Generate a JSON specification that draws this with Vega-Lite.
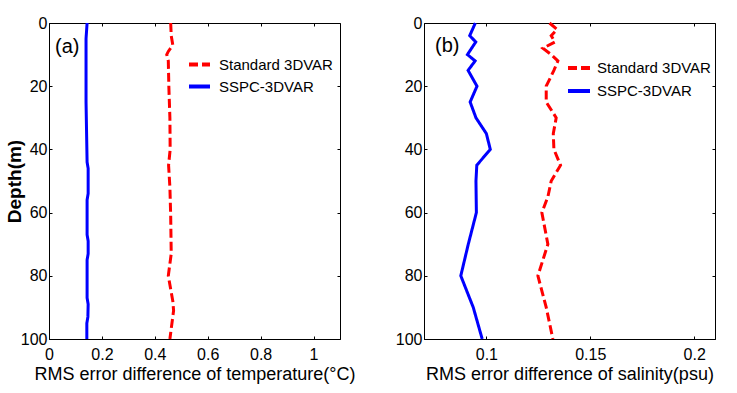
{
  "$schema": "https://vega.github.io/schema/vega-lite/v6.json",
  "padding": {"left": 4, "top": 14, "right": 5, "bottom": 5},
  "background": "white",
  "datasets": {
    "temp": [
      {"method": "Standard 3DVAR", "depth": 0, "value": 0.460},
      {"method": "Standard 3DVAR", "depth": 4, "value": 0.462},
      {"method": "Standard 3DVAR", "depth": 7, "value": 0.468},
      {"method": "Standard 3DVAR", "depth": 9, "value": 0.451},
      {"method": "Standard 3DVAR", "depth": 10, "value": 0.445},
      {"method": "Standard 3DVAR", "depth": 12, "value": 0.451},
      {"method": "Standard 3DVAR", "depth": 20, "value": 0.453},
      {"method": "Standard 3DVAR", "depth": 30, "value": 0.457},
      {"method": "Standard 3DVAR", "depth": 40, "value": 0.458},
      {"method": "Standard 3DVAR", "depth": 45, "value": 0.452},
      {"method": "Standard 3DVAR", "depth": 52, "value": 0.457},
      {"method": "Standard 3DVAR", "depth": 61, "value": 0.460},
      {"method": "Standard 3DVAR", "depth": 73, "value": 0.462},
      {"method": "Standard 3DVAR", "depth": 80, "value": 0.451},
      {"method": "Standard 3DVAR", "depth": 88, "value": 0.468},
      {"method": "Standard 3DVAR", "depth": 91, "value": 0.471},
      {"method": "Standard 3DVAR", "depth": 100, "value": 0.457},
      {"method": "SSPC-3DVAR", "depth": 0, "value": 0.144},
      {"method": "SSPC-3DVAR", "depth": 5, "value": 0.140},
      {"method": "SSPC-3DVAR", "depth": 25, "value": 0.140},
      {"method": "SSPC-3DVAR", "depth": 44, "value": 0.144},
      {"method": "SSPC-3DVAR", "depth": 46, "value": 0.148},
      {"method": "SSPC-3DVAR", "depth": 54, "value": 0.148},
      {"method": "SSPC-3DVAR", "depth": 56, "value": 0.144},
      {"method": "SSPC-3DVAR", "depth": 67, "value": 0.144},
      {"method": "SSPC-3DVAR", "depth": 69, "value": 0.148},
      {"method": "SSPC-3DVAR", "depth": 73, "value": 0.148},
      {"method": "SSPC-3DVAR", "depth": 75, "value": 0.144},
      {"method": "SSPC-3DVAR", "depth": 87, "value": 0.144},
      {"method": "SSPC-3DVAR", "depth": 89, "value": 0.148},
      {"method": "SSPC-3DVAR", "depth": 93, "value": 0.147},
      {"method": "SSPC-3DVAR", "depth": 95, "value": 0.143},
      {"method": "SSPC-3DVAR", "depth": 100, "value": 0.143}
    ],
    "sal": [
      {"method": "Standard 3DVAR", "depth": 0, "value": 0.1304},
      {"method": "Standard 3DVAR", "depth": 2, "value": 0.1340},
      {"method": "Standard 3DVAR", "depth": 4, "value": 0.1312},
      {"method": "Standard 3DVAR", "depth": 6, "value": 0.1330},
      {"method": "Standard 3DVAR", "depth": 8, "value": 0.1272},
      {"method": "Standard 3DVAR", "depth": 10, "value": 0.1312},
      {"method": "Standard 3DVAR", "depth": 12, "value": 0.1344},
      {"method": "Standard 3DVAR", "depth": 15, "value": 0.1325},
      {"method": "Standard 3DVAR", "depth": 20, "value": 0.1288},
      {"method": "Standard 3DVAR", "depth": 25, "value": 0.1288},
      {"method": "Standard 3DVAR", "depth": 30, "value": 0.1336},
      {"method": "Standard 3DVAR", "depth": 35, "value": 0.1322},
      {"method": "Standard 3DVAR", "depth": 40, "value": 0.1325},
      {"method": "Standard 3DVAR", "depth": 45, "value": 0.1357},
      {"method": "Standard 3DVAR", "depth": 50, "value": 0.1312},
      {"method": "Standard 3DVAR", "depth": 55, "value": 0.1296},
      {"method": "Standard 3DVAR", "depth": 60, "value": 0.1267},
      {"method": "Standard 3DVAR", "depth": 70, "value": 0.1296},
      {"method": "Standard 3DVAR", "depth": 80, "value": 0.1248},
      {"method": "Standard 3DVAR", "depth": 90, "value": 0.1288},
      {"method": "Standard 3DVAR", "depth": 100, "value": 0.1320},
      {"method": "SSPC-3DVAR", "depth": 0, "value": 0.0947},
      {"method": "SSPC-3DVAR", "depth": 4, "value": 0.0920},
      {"method": "SSPC-3DVAR", "depth": 6, "value": 0.0949},
      {"method": "SSPC-3DVAR", "depth": 10, "value": 0.0909},
      {"method": "SSPC-3DVAR", "depth": 12, "value": 0.0946},
      {"method": "SSPC-3DVAR", "depth": 15, "value": 0.0912},
      {"method": "SSPC-3DVAR", "depth": 20, "value": 0.0955},
      {"method": "SSPC-3DVAR", "depth": 25, "value": 0.0922},
      {"method": "SSPC-3DVAR", "depth": 30, "value": 0.0950},
      {"method": "SSPC-3DVAR", "depth": 35, "value": 0.1000},
      {"method": "SSPC-3DVAR", "depth": 40, "value": 0.1019},
      {"method": "SSPC-3DVAR", "depth": 45, "value": 0.0954},
      {"method": "SSPC-3DVAR", "depth": 50, "value": 0.0950},
      {"method": "SSPC-3DVAR", "depth": 60, "value": 0.0952},
      {"method": "SSPC-3DVAR", "depth": 70, "value": 0.0913},
      {"method": "SSPC-3DVAR", "depth": 80, "value": 0.0877},
      {"method": "SSPC-3DVAR", "depth": 90, "value": 0.0937},
      {"method": "SSPC-3DVAR", "depth": 100, "value": 0.0980}
    ]
  },
  "config": {
    "view": {"stroke": "black", "strokeWidth": 1},
    "font": "Liberation Sans",
    "axis": {
      "grid": false,
      "domainColor": "black",
      "tickColor": "black",
      "labelColor": "black",
      "titleColor": "black",
      "labelFont": "Liberation Sans",
      "titleFont": "Liberation Sans",
      "labelFontSize": 16,
      "titleFontSize": 18,
      "titleFontWeight": "normal",
      "tickSize": -3,
      "labelOverlap": false,
      "labelFlush": false
    },
    "concat": {"spacing": 84}
  },
  "bounds": "flush",
  "resolve": {
    "scale": {"x": "independent", "y": "independent", "color": "independent", "strokeDash": "independent"},
    "legend": {"color": "independent", "strokeDash": "independent"}
  },
  "hconcat": [
    {
      "width": 291,
      "height": 316,
      "resolve": {"axis": {"x": "independent", "y": "independent"}},
      "layer": [
        {
          "data": {"name": "temp"},
          "mark": {"type": "line", "strokeWidth": 3},
          "encoding": {
            "x": {"field": "value", "type": "quantitative", "scale": {"domain": [0, 1.1], "nice": false, "zero": false},
              "axis": {"orient": "bottom", "values": [0, 0.2, 0.4, 0.6, 0.8, 1], "format": "~g", "labelPadding": 10, "title": "RMS error difference of temperature(°C)", "titlePadding": 3}},
            "y": {"field": "depth", "type": "quantitative", "scale": {"domain": [0, 100], "reverse": true, "nice": false},
              "axis": {"orient": "left", "values": [0, 20, 40, 60, 80, 100], "labelPadding": 5, "title": "Depth(m)", "titleFontWeight": "bold", "titleFontSize": 19, "titlePadding": -4}},
            "order": {"field": "depth", "type": "quantitative"},
            "color": {"field": "method", "type": "nominal",
              "scale": {"domain": ["Standard 3DVAR", "SSPC-3DVAR"], "range": ["#FF0000", "#0000FF"]},
              "legend": {"orient": "none", "legendX": 138, "legendY": 29, "title": null, "symbolType": "stroke", "symbolSize": 441, "symbolStrokeWidth": 4, "labelFontSize": 15, "labelFont": "Liberation Sans", "labelColor": "black", "labelOffset": 7, "rowPadding": 1, "padding": 0}},
            "strokeDash": {"field": "method", "type": "nominal",
              "scale": {"domain": ["Standard 3DVAR", "SSPC-3DVAR"], "range": [[9, 4], [1, 0]]},
              "legend": {"orient": "none", "legendX": 138, "legendY": 29, "title": null, "symbolType": "stroke", "symbolSize": 441, "symbolStrokeWidth": 4, "labelFontSize": 15, "labelFont": "Liberation Sans", "labelColor": "black", "labelOffset": 7, "rowPadding": 1, "padding": 0}}
          }
        },
        {
          "data": {"values": [{"label": "(a)"}]},
          "mark": {"type": "text", "align": "left", "baseline": "middle", "fontSize": 20, "font": "Liberation Sans", "color": "black"},
          "encoding": {
            "x": {"datum": 0.023, "type": "quantitative", "axis": {"orient": "top", "values": [0, 0.2, 0.4, 0.6, 0.8, 1], "labels": false, "domain": false, "title": null}},
            "y": {"datum": 7.7, "type": "quantitative", "axis": {"orient": "right", "values": [0, 20, 40, 60, 80, 100], "labels": false, "domain": false, "title": null}},
            "text": {"field": "label"}
          }
        }
      ]
    },
    {
      "width": 291,
      "height": 316,
      "resolve": {"axis": {"x": "independent", "y": "independent"}},
      "layer": [
        {
          "data": {"name": "sal"},
          "mark": {"type": "line", "strokeWidth": 3},
          "encoding": {
            "x": {"field": "value", "type": "quantitative", "scale": {"domain": [0.07, 0.21], "nice": false, "zero": false},
              "axis": {"orient": "bottom", "values": [0.1, 0.15, 0.2], "format": "~g", "labelPadding": 10, "title": "RMS error difference of salinity(psu)", "titlePadding": 3}},
            "y": {"field": "depth", "type": "quantitative", "scale": {"domain": [0, 100], "reverse": true, "nice": false},
              "axis": {"orient": "left", "values": [0, 20, 40, 60, 80, 100], "labelPadding": 5, "title": null}},
            "order": {"field": "depth", "type": "quantitative"},
            "color": {"field": "method", "type": "nominal",
              "scale": {"domain": ["Standard 3DVAR", "SSPC-3DVAR"], "range": ["#FF0000", "#0000FF"]},
              "legend": {"orient": "none", "legendX": 142, "legendY": 32, "title": null, "symbolType": "stroke", "symbolSize": 484, "symbolStrokeWidth": 4, "labelFontSize": 15, "labelFont": "Liberation Sans", "labelColor": "black", "labelOffset": 5, "rowPadding": 2, "padding": 0}},
            "strokeDash": {"field": "method", "type": "nominal",
              "scale": {"domain": ["Standard 3DVAR", "SSPC-3DVAR"], "range": [[9, 4], [1, 0]]},
              "legend": {"orient": "none", "legendX": 142, "legendY": 32, "title": null, "symbolType": "stroke", "symbolSize": 484, "symbolStrokeWidth": 4, "labelFontSize": 15, "labelFont": "Liberation Sans", "labelColor": "black", "labelOffset": 5, "rowPadding": 2, "padding": 0}}
          }
        },
        {
          "data": {"values": [{"label": "(b)"}]},
          "mark": {"type": "text", "align": "left", "baseline": "middle", "fontSize": 20, "font": "Liberation Sans", "color": "black"},
          "encoding": {
            "x": {"datum": 0.0753, "type": "quantitative", "axis": {"orient": "top", "values": [0.1, 0.15, 0.2], "labels": false, "domain": false, "title": null}},
            "y": {"datum": 7.4, "type": "quantitative", "axis": {"orient": "right", "values": [0, 20, 40, 60, 80, 100], "labels": false, "domain": false, "title": null}},
            "text": {"field": "label"}
          }
        }
      ]
    }
  ]
}
